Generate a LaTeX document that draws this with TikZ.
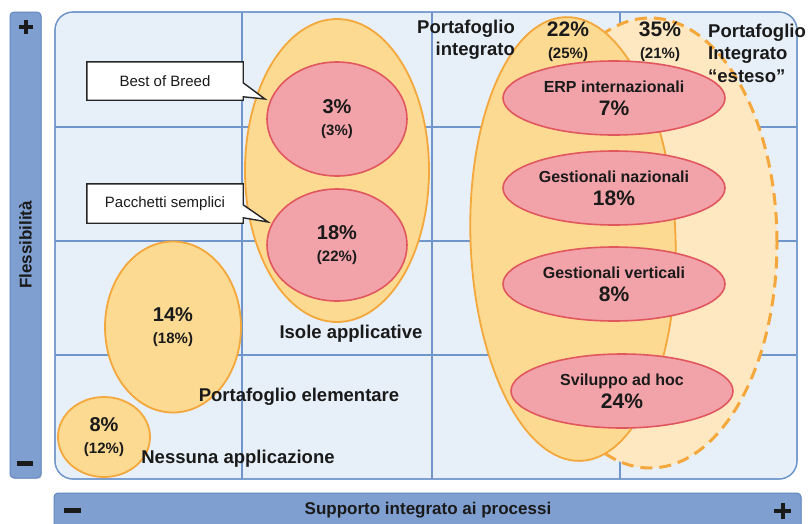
\documentclass[tikz,border=0pt]{standalone}
\usepackage{fontspec}
\setmainfont{Liberation Sans}
\usetikzlibrary{shapes.geometric,calc,shadows}

\definecolor{panelbg}{HTML}{E7EFF8}
\definecolor{gridblue}{HTML}{6F95CA}
\definecolor{barfill}{HTML}{7F9FD0}
\definecolor{barline}{HTML}{6186BE}
\definecolor{orfill}{HTML}{FDDA92}
\definecolor{orline}{HTML}{F4A73B}
\definecolor{lightfill}{HTML}{FEE8C1}
\definecolor{redfill}{HTML}{F2A3A9}
\definecolor{redline}{HTML}{E0575F}
\definecolor{ink}{HTML}{1A1A1A}

\newcommand{\fs}[2]{\fontsize{#1}{#2}\selectfont}

\tikzset{
  panel/.style={fill=panelbg, draw=gridblue, line width=1.2pt},
  gridline/.style={draw=gridblue, line width=1.1pt},
  axisbar/.style={fill=barfill, draw=barline, line width=1pt, rounded corners=4pt,
    drop shadow={shadow xshift=1.2pt, shadow yshift=-1.2pt, opacity=0.25}},
  orell/.style={ellipse, inner sep=0pt, fill=orfill, draw=orline, line width=1.8pt,
    text=ink, font=\bfseries\fs{15}{21.5}, align=center},
  lightell/.style={ellipse, inner sep=0pt, fill=lightfill, draw=orline, line width=3pt,
    dash pattern=on 12pt off 7pt},
  redell/.style={ellipse, inner sep=0pt, fill=redfill, draw=redline, line width=1.6pt,
    text=ink, font=\bfseries\fs{15}{22}, align=center},
  redbig/.style={redell, font=\bfseries\fs{16}{23}},
  share/.style={text=ink, font=\bfseries\fs{15}{22}, align=center, inner sep=0pt},
  lbl/.style={text=ink, font=\bfseries\fs{18.5}{22.5}, inner sep=0pt},
  callout/.style={rectangle, inner sep=0pt, fill=white, text=ink, font=\fs{15}{18}},
  calloutline/.style={draw=black!85, line width=1.4pt, line join=miter},
}

\begin{document}
\begin{tikzpicture}[x=1pt, y=-1pt]
\useasboundingbox (0,0) rectangle (811,523);

% vertical axis bar
\node[axisbar, minimum width=31pt, minimum height=466pt] (vbar) at (25.5,245) {};
\node[rotate=90, text=ink, font=\bfseries\fs{17}{20}] (flex) at (vbar) {Flessibilità};
\fill[ink] (19,25) rectangle (33,29);
\fill[ink] (24,20) rectangle (28,34);
\fill[ink] (17,461) rectangle (33,466);

% horizontal axis bar
\begin{scope}
\clip (0,0) rectangle (811,523);
\node[axisbar, minimum width=747pt, minimum height=40pt] (hbar) at (427.5,513) {};
\end{scope}
\node[text=ink, font=\bfseries\fs{17}{20}] (supp) at (428,510) {Supporto integrato ai processi};
\fill[ink] (64,508) rectangle (81,512.5);
\fill[ink] (774,508.5) rectangle (791,513);
\fill[ink] (780.5,502.5) rectangle (785,519);

% main panel with grid
\path[panel, rounded corners=18pt] (55,12) rectangle (797,479);
\begin{scope}
\clip[rounded corners=18pt] (55,12) rectangle (797,479);
\foreach \gx in {242,432,620} \draw[gridline] (\gx,12) -- (\gx,479);
\foreach \gy in {127,241,355} \draw[gridline] (55,\gy) -- (797,\gy);
\end{scope}
\path[draw=gridblue, line width=1.2pt, rounded corners=18pt] (55,12) rectangle (797,479);

% single applications
\node[orell, minimum width=92pt, minimum height=80pt] (none) at (104,437)
  {{\fs{20}{20}8\%}\\(12\%)};
\node[orell, minimum width=136pt, minimum height=171pt] (elem) at (173,327)
  {{\fs{20}{20}14\%}\\(18\%)};

% application islands
\node[orell, minimum width=184pt, minimum height=303pt] (isole) at (337,170.5) {};
\node[redell, minimum width=140pt, minimum height=114pt] (best) at (337,119)
  {{\fs{20}{20}3\%}\\(3\%)};
\node[redell, minimum width=140pt, minimum height=112pt] (pacch) at (337,245)
  {{\fs{20}{20}18\%}\\(22\%)};

% integrated portfolios
\node[lightell, minimum width=254pt, minimum height=450pt] (esteso) at (650,243) {};
\node[orell, minimum width=205pt, minimum height=444pt, rotate=2] (integr) at (573,239) {};
\node[redbig, minimum width=222pt, minimum height=74pt] (erp) at (614,98)
  {ERP internazionali\\{\fs{21}{21}7\%}};
\node[redbig, minimum width=222pt, minimum height=74pt] (gnaz) at (614,188)
  {Gestionali nazionali\\{\fs{21}{21}18\%}};
\node[redbig, minimum width=222pt, minimum height=74pt] (gver) at (614,284)
  {Gestionali verticali\\{\fs{21}{21}8\%}};
\node[redbig, minimum width=222pt, minimum height=74pt] (adhoc) at (622,391)
  {Sviluppo ad hoc\\{\fs{21}{21}24\%}};

% shares of the integrated portfolios
\node[share] (p22) at (568,42) {{\fs{21}{21}22\%}\\(25\%)};
\node[share] (p35) at (660,42) {{\fs{21}{21}35\%}\\(21\%)};

% class labels
\node[lbl, align=right, anchor=east] (lint) at (515,40)
  {Portafoglio\\integrato};
\node[lbl, align=left, anchor=west] (lest) at (708,53)
  {Portafoglio\\Integrato\\“esteso”};
\node[lbl] (lisole) at (351,334) {Isole applicative};
\node[lbl] (lelem) at (299,397) {Portafoglio elementare};
\node[lbl] (lnone) at (238,459) {Nessuna applicazione};

% callouts
\node[callout, minimum width=156pt, minimum height=38pt] (cbob) at (165,81) {Best of Breed};
\coordinate (tipbob) at (265,99);
\fill[white] ($(cbob.north east)+(-1,21)$) -- (tipbob) -- ($(cbob.north east)+(-1,35)$) -- cycle;
\draw[calloutline] ($(cbob.north east)+(0,21)$) -- (cbob.north east) -- (cbob.north west)
  -- (cbob.south west) -- (cbob.south east) -- ($(cbob.north east)+(0,35)$)
  -- (tipbob) -- cycle;

\node[callout, minimum width=156pt, minimum height=39pt] (cpac) at (165,203.5) {Pacchetti semplici};
\coordinate (tippac) at (268,222);
\fill[white] ($(cpac.north east)+(-1,21)$) -- (tippac) -- ($(cpac.north east)+(-1,34)$) -- cycle;
\draw[calloutline] ($(cpac.north east)+(0,21)$) -- (cpac.north east) -- (cpac.north west)
  -- (cpac.south west) -- (cpac.south east) -- ($(cpac.north east)+(0,34)$)
  -- (tippac) -- cycle;
\end{tikzpicture}
\end{document}
